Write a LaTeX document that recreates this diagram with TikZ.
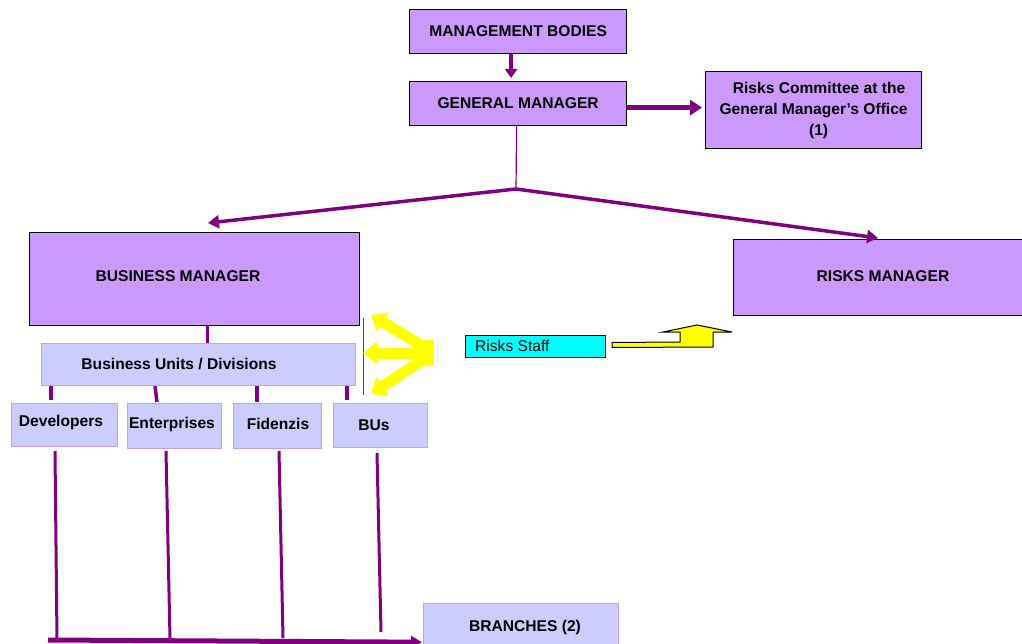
\documentclass[tikz,border=0pt]{standalone}
\usepackage{fontspec}
\setmainfont{Liberation Sans}
\usetikzlibrary{arrows.meta,calc}
\definecolor{boxpurple}{HTML}{CC99FF}
\definecolor{boxlav}{HTML}{CCCCFF}
\definecolor{lineplum}{HTML}{800080}
\definecolor{staffcyan}{HTML}{00FFFF}
\definecolor{arrowyellow}{HTML}{FFFF00}
\begin{document}
\begin{tikzpicture}[x=1pt,y=-1pt,
  lbl/.style={font=\fontsize{15.6}{21}\selectfont\bfseries, inner sep=0pt},
  pbox/.style={draw=black, line width=1.2pt, fill=boxpurple, inner sep=0pt, anchor=north west, lbl},
  lbox/.style={draw=boxpurple, line width=1.2pt, fill=boxlav, inner sep=0pt, anchor=north west, lbl},
  txt/.style={lbl},
  plink/.style={draw=lineplum, line width=3.5pt},
  parrow/.style={plink, -{Triangle[length=11pt,width=13pt]}},
  yarrow/.style={draw=arrowyellow, line width=11pt, -{Triangle[length=14pt,width=22pt]}}
]
\clip (0,0) rectangle (1022,644);
\fill[white] (0,0) rectangle (1022,644);

% top boxes
\node[pbox, minimum width=217pt, minimum height=44pt] (mb) at (409,9) {MANAGEMENT BODIES};
\node[pbox, minimum width=217pt, minimum height=44pt] (gm) at (409,81) {GENERAL MANAGER};
\node[pbox, minimum width=216pt, minimum height=77pt, align=center] (rc) at (705,71)
  {\hspace*{11pt}Risks Committee at the\\General Manager’s Office\\\hspace*{10pt}(1)};

% managers
\node[pbox, minimum width=330pt, minimum height=93pt] (bm) at (29,232) {};
\node[txt] (bmt) at (178,276) {BUSINESS MANAGER};
\node[pbox, minimum width=300pt, minimum height=76pt] (rm) at (733,239) {};
\node[txt] (rmt) at (883,276) {RISKS MANAGER};

% business units
\node[lbox, minimum width=314pt, minimum height=42pt] (bu) at (41,343) {};
\node[txt] (but) at (179,364) {Business Units / Divisions};
\node[lbox, minimum width=106pt, minimum height=43pt] (dev) at (11,403) {};
\node[txt] (devt) at (61,422) {Developers};
\node[lbox, minimum width=94pt, minimum height=45pt] (ent) at (127,403) {};
\node[txt] (entt) at (172,424) {Enterprises};
\node[lbox, minimum width=88pt, minimum height=45pt] (fid) at (233,403) {};
\node[txt] (fidt) at (278,424) {Fidenzis};
\node[lbox, minimum width=94pt, minimum height=44pt] (bus) at (333,403) {};
\node[txt] (bust) at (374,425) {BUs};
\node[lbox, minimum width=195pt, minimum height=48pt] (br) at (423,603) {};
\node[txt] (brt) at (525,627) {BRANCHES (2)};

% risks staff
\node[draw=black, line width=1pt, fill=staffcyan, inner sep=0pt, anchor=north west,
  minimum width=140pt, minimum height=22pt] (rs) at (465,335) {};
\node[font=\fontsize{15.6}{18}\selectfont, inner sep=0pt, anchor=west] (rst) at (475,346) {Risks Staff};

% risks staff up arrow
\draw[fill=arrowyellow, line width=1pt]
  ($(rs.east)+(6,-4)$) -- (680,342) -- (680,332) -- (663,332) -- (697,325)
  -- (732,332) -- (713,332) -- (713,347) -- ($(rs.east)+(6,1)$) -- cycle;

% yellow fan arrows
\draw[gray!60!black, line width=1pt] (363,318) -- (363,395);
\fill[arrowyellow] (418,340) rectangle (434,365);
\draw[arrowyellow!60, line width=1pt] (437,340) -- (437,365);
\draw[yarrow] (424,353) -- (363,353);
\draw[yarrow] (424,347) -- (371,315);
\draw[yarrow] (424,359) -- (371,394);

% top connectors
\draw[plink, line width=4pt, -{Triangle[length=9pt,width=12pt]}]
  ([xshift=-7pt]mb.south) -- ([xshift=-7pt,yshift=3pt]gm.north);
\draw[plink, line width=5.5pt, -{Triangle[length=12pt,width=15pt]}]
  ([yshift=-4pt]gm.east) -- ([yshift=-4pt,xshift=-3pt]gm.east -| rc.west);
\coordinate (split) at (516,189);
\coordinate (bmin) at (208,223);
\coordinate (rmin) at (878,238);
\draw[lineplum, line width=1.2pt] ([xshift=-1.5pt]gm.south) -- (split);
\draw[parrow] (split) -- (bmin);
\draw[parrow] (split) -- (rmin);

% business tree
\draw[plink] ([xshift=13pt]bm.south) -- ([xshift=9pt]bu.north);
\draw[plink] ($(bu.south west)+(10,0)$) -- ($(dev.north west)+(40,-3)$);
\draw[plink] ($(bu.south west)+(114,0)$) -- ($(ent.north west)+(30,-1)$);
\draw[plink] ($(bu.south west)+(216,0)$) -- ($(fid.north west)+(24,-1)$);
\draw[plink] ($(bu.south west)+(306,0)$) -- ($(bus.north west)+(14,-3)$);

% branches bus
\coordinate (busL) at (48,640);
\draw[plink, line width=3pt] ($(dev.south west)+(44,4)$) -- (57,640);
\draw[plink, line width=3pt] ($(ent.south west)+(39,2)$) -- (170,639);
\draw[plink, line width=3pt] ($(fid.south west)+(46,2)$) -- (283,638);
\draw[plink, line width=3pt] ($(bus.south west)+(44,5)$) -- (381,632);
\draw[plink, line width=5pt, -{Triangle[length=11pt,width=12pt]}]
  (busL) -- ($(br.south west)+(-1,-10)$);
\end{tikzpicture}
\end{document}
